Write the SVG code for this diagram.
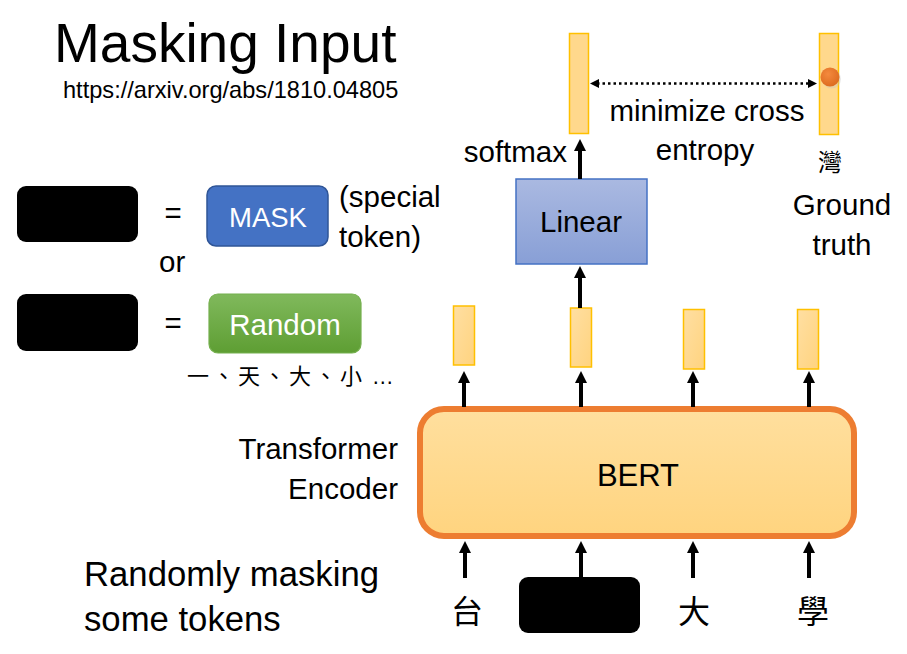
<svg xmlns="http://www.w3.org/2000/svg" width="907" height="654" viewBox="0 0 907 654">
<style>
text{font-family:"Liberation Sans","Noto Sans CJK TC",sans-serif;fill:#000}
.b{font-size:29.5px}
.big{font-size:34.7px}
.cjk{font-family:"Noto Sans CJK TC","Liberation Sans",sans-serif}
.w{fill:#fff}
.arr{stroke:#000;stroke-width:4;fill:none;marker-end:url(#ah)}
.tok{fill:#000;stroke:none}
.vec{fill:url(#gv);stroke:#FFC000;stroke-width:1.5}
</style>
<defs>
<marker id="ah" markerUnits="userSpaceOnUse" markerWidth="12" markerHeight="12" refX="4" refY="6" orient="auto">
<path d="M0,0 L12,6 L0,12 z" fill="#000"/>
</marker>
<marker id="sh" markerUnits="userSpaceOnUse" markerWidth="9" markerHeight="9" refX="2" refY="4.5" orient="auto-start-reverse">
<path d="M0,0 L9,4.5 L0,9 z" fill="#000"/>
</marker>
<linearGradient id="gv" x1="0" y1="0" x2="1" y2="1">
<stop offset="0" stop-color="#FFDFA2"/>
<stop offset="1" stop-color="#FFD37F"/>
</linearGradient>
<linearGradient id="gl" x1="0" y1="0" x2="0" y2="1">
<stop offset="0" stop-color="#AAB9E1"/>
<stop offset="1" stop-color="#889FD6"/>
</linearGradient>
<linearGradient id="gr" x1="0" y1="0" x2="0" y2="1">
<stop offset="0" stop-color="#80B95C"/>
<stop offset="1" stop-color="#5E9E33"/>
</linearGradient>
<linearGradient id="gb" x1="0" y1="0" x2="0" y2="1">
<stop offset="0" stop-color="#FFDF9E"/>
<stop offset="1" stop-color="#FFD47F"/>
</linearGradient>
<radialGradient id="gd" cx="0.4" cy="0.35" r="0.7">
<stop offset="0" stop-color="#F48A3E"/>
<stop offset="1" stop-color="#DC6A1E"/>
</radialGradient>
</defs>

<g id="title">
<text x="54" y="62" style="font-size:55px">Masking Input</text>
<text x="63" y="98" style="font-size:23.6px">https://arxiv.org/abs/1810.04805</text>
</g>

<g id="legend">
<rect class="tok" x="17" y="186" width="121" height="56" rx="9"/>
<text class="b" x="173" y="223" text-anchor="middle">=</text>
<g id="mask">
<rect x="207" y="186" width="121" height="60" rx="9" fill="#4472C4" stroke="#2F5597" stroke-width="1.5"/>
<text class="w" x="268" y="227" text-anchor="middle" style="font-size:27.5px">MASK</text>
</g>
<text class="b" x="339" y="207">(special</text>
<text class="b" x="339" y="247">token)</text>
<text class="b" x="159" y="272">or</text>
<rect class="tok" x="17" y="294" width="121" height="57" rx="9"/>
<text class="b" x="173" y="333" text-anchor="middle">=</text>
<g id="random">
<rect x="209" y="294" width="152" height="59" rx="9" fill="url(#gr)" stroke="#75B04E" stroke-width="1.2"/>
<text class="b w" x="285" y="335" text-anchor="middle">Random</text>
</g>
<text class="cjk" x="187" y="384" style="font-size:22px;letter-spacing:3.5px">一、天、大、小<tspan style="font-family:'Liberation Sans',sans-serif;letter-spacing:0"> …</tspan></text>
</g>

<g id="labels">
<text class="b" x="398" y="459" text-anchor="end">Transformer</text>
<text class="b" x="398" y="499" text-anchor="end">Encoder</text>
<text class="big" x="84" y="586">Randomly masking</text>
<text class="big" x="84" y="631">some tokens</text>
</g>

<g id="bert">
<rect x="420" y="409" width="434" height="127" rx="24" fill="url(#gb)" stroke="#ED7D31" stroke-width="6"/>
<text x="638" y="486" text-anchor="middle" style="font-size:31px">BERT</text>
</g>

<g id="outputs">
<rect class="vec" x="453.5" y="306" width="21" height="59"/>
<rect class="vec" x="570.5" y="308" width="21" height="59"/>
<rect class="vec" x="683.5" y="309.5" width="21" height="59.5"/>
<rect class="vec" x="797.5" y="309.5" width="21" height="59.5"/>
</g>

<g id="linear">
<rect x="516" y="179" width="131" height="85" fill="url(#gl)" stroke="#4472C4" stroke-width="1.5"/>
<text class="b" x="581" y="232" text-anchor="middle">Linear</text>
</g>

<g id="softmax-out">
<rect x="569.5" y="33.5" width="19" height="100" fill="#FFD88C" stroke="#FFC000" stroke-width="1.5"/>
<text class="b" x="567" y="162" text-anchor="end">softmax</text>
</g>

<g id="ground-truth">
<rect x="819.5" y="33.5" width="19" height="101" fill="#FFD88C" stroke="#FFC000" stroke-width="1.5"/>
<circle cx="830" cy="77" r="9.5" fill="#C0C0C0" opacity="0.35" transform="translate(1.5,2)"/>
<circle cx="830" cy="77" r="9.5" fill="url(#gd)"/>
<text class="cjk" x="830" y="171" text-anchor="middle" style="font-size:24px">灣</text>
<text class="b" x="842" y="215" text-anchor="middle">Ground</text>
<text class="b" x="842" y="255" text-anchor="middle">truth</text>
</g>

<g id="inputs">
<text class="cjk" x="467" y="623" text-anchor="middle" style="font-size:32px">台</text>
<rect class="tok" x="519" y="577" width="121" height="56" rx="9"/>
<text class="cjk" x="694" y="623" text-anchor="middle" style="font-size:32px">大</text>
<text class="cjk" x="813" y="623" text-anchor="middle" style="font-size:32px">學</text>
</g>

<g id="connectors">
<line class="arr" x1="465" y1="578" x2="465" y2="549"/>
<line class="arr" x1="581" y1="578" x2="581" y2="549"/>
<line class="arr" x1="693" y1="578" x2="693" y2="549"/>
<line class="arr" x1="809" y1="578" x2="809" y2="549"/>
<line class="arr" x1="464" y1="407" x2="464" y2="379"/>
<line class="arr" x1="581" y1="407" x2="581" y2="379"/>
<line class="arr" x1="693" y1="407" x2="693" y2="379"/>
<line class="arr" x1="809" y1="407" x2="809" y2="379"/>
<line class="arr" x1="580" y1="308" x2="580" y2="274"/>
<line class="arr" x1="580" y1="179" x2="580" y2="147"/>
<line x1="597" y1="83.5" x2="810" y2="83.5" stroke="#000" stroke-width="2.5" stroke-dasharray="2.5 3" marker-start="url(#sh)" marker-end="url(#sh)"/>
</g>
<text x="707" y="121" text-anchor="middle" class="b">minimize cross</text>
<text x="705" y="160" text-anchor="middle" class="b">entropy</text>
</svg>
